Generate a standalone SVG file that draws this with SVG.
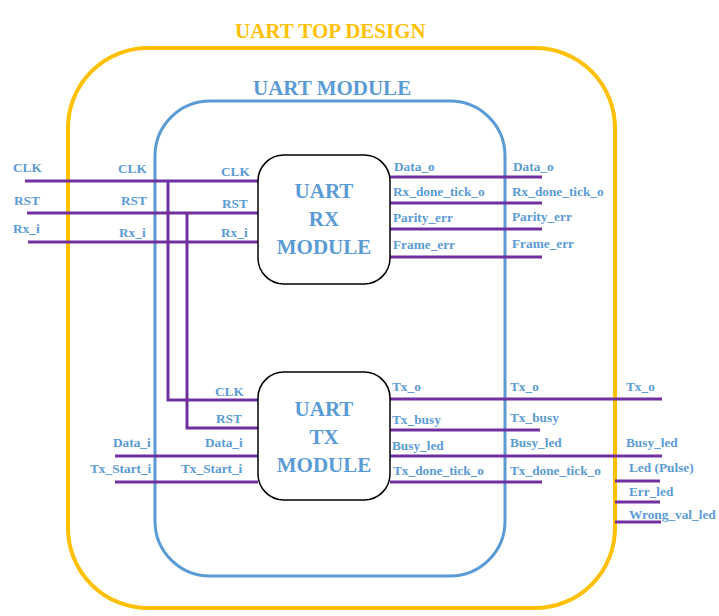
<svg xmlns="http://www.w3.org/2000/svg" width="719" height="616" viewBox="0 0 719 616">
<style>
.lbl{font-family:"Liberation Serif","Times New Roman",serif;font-weight:bold;font-size:13.3px;fill:#5B9BD5}
.ttl{font-family:"Liberation Serif","Times New Roman",serif;font-weight:bold;font-size:21px}
.mod{font-family:"Liberation Serif","Times New Roman",serif;font-weight:bold;font-size:21px;fill:#5B9BD5;text-anchor:middle}
.w{stroke:#7030A0;stroke-width:3;fill:none}
.box{fill:#fff;stroke:#000;stroke-width:1.5}
</style>
<rect width="719" height="616" fill="#fff"/>
<g id="uart_top">
<rect x="68" y="48" width="547" height="560" rx="80" ry="80" fill="none" stroke="#FFC000" stroke-width="4"/>
<text class="ttl" x="235" y="38" fill="#FFC000">UART TOP DESIGN</text>
</g>
<g id="uart_module">
<rect x="155" y="101" width="350" height="475" rx="55" ry="55" fill="none" stroke="#5B9BD5" stroke-width="3"/>
<text class="ttl" x="253" y="95" fill="#5B9BD5">UART MODULE</text>
</g>
<g id="connectors">
<line class="w" x1="25" y1="181" x2="258" y2="181"/>
<line class="w" x1="27" y1="213" x2="258" y2="213"/>
<line class="w" x1="28" y1="242" x2="258" y2="242"/>
<polyline class="w" points="168,181 168,400 258,400"/>
<polyline class="w" points="187,213 187,428 258,428"/>
<line class="w" x1="115" y1="456" x2="258" y2="456"/>
<line class="w" x1="115" y1="482" x2="258" y2="482"/>
<line class="w" x1="390" y1="177" x2="542" y2="177"/>
<line class="w" x1="390" y1="203" x2="542" y2="203"/>
<line class="w" x1="390" y1="229" x2="542" y2="229"/>
<line class="w" x1="390" y1="257" x2="542" y2="257"/>
<line class="w" x1="390" y1="399" x2="662" y2="399"/>
<line class="w" x1="390" y1="430" x2="540" y2="430"/>
<line class="w" x1="390" y1="456" x2="662" y2="456"/>
<line class="w" x1="390" y1="482" x2="542" y2="482"/>
<line class="w" x1="615" y1="481" x2="660" y2="481"/>
<line class="w" x1="615" y1="502" x2="660" y2="502"/>
<line class="w" x1="615" y1="522" x2="661" y2="522"/>
</g>
<g id="rx_module">
<rect class="box" x="258" y="155" width="132" height="129" rx="26" ry="26"/>
<text class="mod" font-family="Liberation Serif, serif" x="324" y="198">UART</text>
<text class="mod" font-family="Liberation Serif, serif" x="324" y="226">RX</text>
<text class="mod" font-family="Liberation Serif, serif" x="324" y="254">MODULE</text>
</g>
<g id="tx_module">
<rect class="box" x="258" y="372" width="132" height="128" rx="26" ry="26"/>
<text class="mod" font-family="Liberation Serif, serif" x="324" y="416">UART</text>
<text class="mod" font-family="Liberation Serif, serif" x="324" y="444">TX</text>
<text class="mod" font-family="Liberation Serif, serif" x="324" y="472">MODULE</text>
</g>
<g id="labels">
<text class="lbl" x="13" y="172">CLK</text>
<text class="lbl" x="14" y="205">RST</text>
<text class="lbl" x="13" y="233">Rx_i</text>
<text class="lbl" x="118" y="173">CLK</text>
<text class="lbl" x="121" y="205">RST</text>
<text class="lbl" x="119" y="237">Rx_i</text>
<text class="lbl" x="221" y="176">CLK</text>
<text class="lbl" x="222" y="208">RST</text>
<text class="lbl" x="221" y="237">Rx_i</text>
<text class="lbl" x="394" y="171">Data_o</text>
<text class="lbl" x="393" y="196">Rx_done_tick_o</text>
<text class="lbl" x="393" y="222">Parity_err</text>
<text class="lbl" x="393" y="249">Frame_err</text>
<text class="lbl" x="513" y="171">Data_o</text>
<text class="lbl" x="512" y="196">Rx_done_tick_o</text>
<text class="lbl" x="512" y="221">Parity_err</text>
<text class="lbl" x="512" y="248">Frame_err</text>
<text class="lbl" x="215" y="396">CLK</text>
<text class="lbl" x="216" y="423">RST</text>
<text class="lbl" x="205" y="447">Data_i</text>
<text class="lbl" x="181" y="473">Tx_Start_i</text>
<text class="lbl" x="113" y="447">Data_i</text>
<text class="lbl" x="90" y="473">Tx_Start_i</text>
<text class="lbl" x="392" y="391">Tx_o</text>
<text class="lbl" x="392" y="424">Tx_busy</text>
<text class="lbl" x="392" y="450">Busy_led</text>
<text class="lbl" x="393" y="475">Tx_done_tick_o</text>
<text class="lbl" x="510" y="391">Tx_o</text>
<text class="lbl" x="510" y="422">Tx_busy</text>
<text class="lbl" x="510" y="447">Busy_led</text>
<text class="lbl" x="510" y="475">Tx_done_tick_o</text>
<text class="lbl" x="626" y="391">Tx_o</text>
<text class="lbl" x="626" y="447">Busy_led</text>
<text class="lbl" x="629" y="472">Led (Pulse)</text>
<text class="lbl" x="629" y="496">Err_led</text>
<text class="lbl" x="629" y="519">Wrong_val_led</text>
</g>
</svg>
